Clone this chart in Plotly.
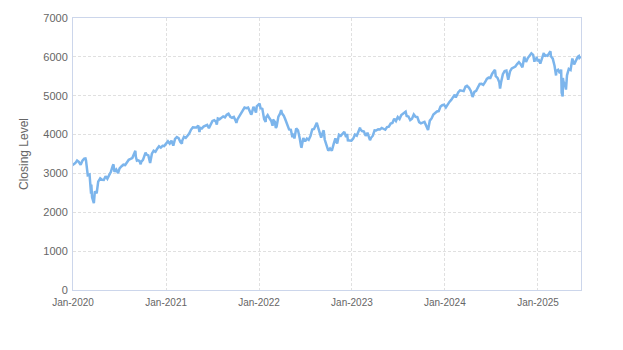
import plotly.graph_objects as go

# Weekly-ish closing levels (date, close)
closes_2020 = [
    ("2020-01-02", 3258), ("2020-01-03", 3235), ("2020-01-10", 3265), ("2020-01-17", 3330),
    ("2020-01-24", 3295), ("2020-01-31", 3225), ("2020-02-07", 3328), ("2020-02-14", 3380),
    ("2020-02-19", 3386), ("2020-02-21", 3338), ("2020-02-28", 2954), ("2020-03-06", 2972),
    ("2020-03-12", 2481), ("2020-03-13", 2711), ("2020-03-16", 2386), ("2020-03-20", 2305),
    ("2020-03-23", 2237), ("2020-03-27", 2541), ("2020-04-03", 2489), ("2020-04-09", 2790),
    ("2020-04-17", 2875), ("2020-04-24", 2837), ("2020-05-01", 2831), ("2020-05-08", 2930),
    ("2020-05-15", 2864), ("2020-05-22", 2955), ("2020-05-29", 3044), ("2020-06-05", 3194),
    ("2020-06-08", 3232), ("2020-06-12", 3041), ("2020-06-19", 3098), ("2020-06-26", 3009),
    ("2020-07-02", 3130), ("2020-07-10", 3185), ("2020-07-17", 3225), ("2020-07-24", 3216),
    ("2020-07-31", 3271), ("2020-08-07", 3351), ("2020-08-14", 3373), ("2020-08-21", 3397),
    ("2020-08-28", 3508), ("2020-09-02", 3580), ("2020-09-04", 3427), ("2020-09-08", 3332),
    ("2020-09-11", 3341), ("2020-09-18", 3319), ("2020-09-23", 3237), ("2020-09-25", 3298),
    ("2020-10-02", 3348), ("2020-10-09", 3477), ("2020-10-12", 3534), ("2020-10-16", 3484),
    ("2020-10-23", 3465), ("2020-10-30", 3270), ("2020-11-06", 3509), ("2020-11-13", 3585),
    ("2020-11-20", 3558), ("2020-11-27", 3638), ("2020-12-04", 3699), ("2020-12-11", 3663),
    ("2020-12-18", 3709), ("2020-12-24", 3703), ("2020-12-31", 3756),
]
closes_2021 = [
    ("2021-01-08", 3825), ("2021-01-15", 3768), ("2021-01-22", 3841), ("2021-01-29", 3714),
    ("2021-02-05", 3887), ("2021-02-12", 3934), ("2021-02-19", 3907), ("2021-02-26", 3811),
    ("2021-03-04", 3768), ("2021-03-05", 3842), ("2021-03-12", 3943), ("2021-03-19", 3913),
    ("2021-03-26", 3975), ("2021-04-01", 4020), ("2021-04-09", 4129), ("2021-04-16", 4185),
    ("2021-04-23", 4180), ("2021-04-30", 4181), ("2021-05-07", 4233), ("2021-05-12", 4063),
    ("2021-05-14", 4174), ("2021-05-21", 4156), ("2021-05-28", 4204), ("2021-06-04", 4230),
    ("2021-06-11", 4247), ("2021-06-18", 4166), ("2021-06-25", 4281), ("2021-07-02", 4352),
    ("2021-07-09", 4370), ("2021-07-16", 4327), ("2021-07-19", 4258), ("2021-07-23", 4412),
    ("2021-07-30", 4395), ("2021-08-06", 4437), ("2021-08-13", 4468), ("2021-08-20", 4442),
    ("2021-08-27", 4509), ("2021-09-03", 4535), ("2021-09-10", 4459), ("2021-09-17", 4433),
    ("2021-09-24", 4455), ("2021-10-01", 4357), ("2021-10-04", 4300), ("2021-10-08", 4391),
    ("2021-10-15", 4471), ("2021-10-22", 4545), ("2021-10-29", 4605), ("2021-11-05", 4697),
    ("2021-11-12", 4682), ("2021-11-19", 4698), ("2021-11-26", 4595), ("2021-12-01", 4513),
    ("2021-12-03", 4538), ("2021-12-10", 4712), ("2021-12-17", 4620), ("2021-12-20", 4568),
    ("2021-12-23", 4725), ("2021-12-31", 4766),
]
closes_2022 = [
    ("2022-01-03", 4796), ("2022-01-07", 4677), ("2022-01-14", 4662), ("2022-01-21", 4398),
    ("2022-01-27", 4327), ("2022-01-28", 4432), ("2022-02-04", 4500), ("2022-02-11", 4419),
    ("2022-02-18", 4349), ("2022-02-23", 4226), ("2022-02-25", 4385), ("2022-03-04", 4329),
    ("2022-03-08", 4170), ("2022-03-11", 4204), ("2022-03-18", 4463), ("2022-03-25", 4543),
    ("2022-03-29", 4631), ("2022-04-01", 4546), ("2022-04-08", 4488), ("2022-04-14", 4393),
    ("2022-04-22", 4272), ("2022-04-29", 4132), ("2022-05-06", 4123), ("2022-05-12", 3930),
    ("2022-05-13", 4024), ("2022-05-20", 3901), ("2022-05-27", 4158), ("2022-06-03", 4109),
    ("2022-06-10", 3901), ("2022-06-16", 3667), ("2022-06-17", 3675), ("2022-06-24", 3912),
    ("2022-07-01", 3825), ("2022-07-08", 3899), ("2022-07-15", 3863), ("2022-07-22", 3962),
    ("2022-07-29", 4130), ("2022-08-05", 4145), ("2022-08-12", 4280), ("2022-08-16", 4305),
    ("2022-08-19", 4228), ("2022-08-26", 4058), ("2022-09-02", 3924), ("2022-09-09", 4067),
    ("2022-09-12", 4110), ("2022-09-16", 3873), ("2022-09-23", 3693), ("2022-09-30", 3586),
    ("2022-10-07", 3640), ("2022-10-12", 3577), ("2022-10-14", 3583), ("2022-10-21", 3752),
    ("2022-10-28", 3901), ("2022-11-04", 3771), ("2022-11-11", 3993), ("2022-11-18", 3965),
    ("2022-11-25", 4026), ("2022-12-02", 4072), ("2022-12-09", 3934), ("2022-12-13", 4020),
    ("2022-12-16", 3852), ("2022-12-23", 3845), ("2022-12-30", 3840),
]
closes_2023 = [
    ("2023-01-06", 3895), ("2023-01-13", 3999), ("2023-01-20", 3973), ("2023-01-27", 4071),
    ("2023-02-02", 4180), ("2023-02-03", 4136), ("2023-02-10", 4090), ("2023-02-17", 4079),
    ("2023-02-24", 3970), ("2023-03-03", 4046), ("2023-03-10", 3862), ("2023-03-13", 3856),
    ("2023-03-17", 3917), ("2023-03-24", 3971), ("2023-03-31", 4109), ("2023-04-06", 4105),
    ("2023-04-14", 4138), ("2023-04-21", 4133), ("2023-04-28", 4169), ("2023-05-05", 4136),
    ("2023-05-12", 4124), ("2023-05-19", 4192), ("2023-05-26", 4205), ("2023-06-02", 4282),
    ("2023-06-09", 4299), ("2023-06-16", 4410), ("2023-06-23", 4348), ("2023-06-30", 4450),
    ("2023-07-07", 4399), ("2023-07-14", 4505), ("2023-07-21", 4536), ("2023-07-28", 4582),
    ("2023-07-31", 4589), ("2023-08-04", 4478), ("2023-08-11", 4464), ("2023-08-18", 4370),
    ("2023-08-25", 4406), ("2023-09-01", 4516), ("2023-09-08", 4457), ("2023-09-15", 4450),
    ("2023-09-22", 4320), ("2023-09-29", 4288), ("2023-10-06", 4308), ("2023-10-13", 4327),
    ("2023-10-20", 4224), ("2023-10-27", 4117), ("2023-11-03", 4358), ("2023-11-10", 4415),
    ("2023-11-17", 4514), ("2023-11-24", 4559), ("2023-12-01", 4595), ("2023-12-08", 4604),
    ("2023-12-15", 4719), ("2023-12-22", 4755), ("2023-12-29", 4770),
]
closes_2024 = [
    ("2024-01-05", 4697), ("2024-01-12", 4784), ("2024-01-19", 4840), ("2024-01-26", 4891),
    ("2024-02-02", 4959), ("2024-02-09", 5027), ("2024-02-13", 4953), ("2024-02-16", 5006),
    ("2024-02-23", 5089), ("2024-03-01", 5137), ("2024-03-08", 5124), ("2024-03-15", 5117),
    ("2024-03-22", 5234), ("2024-03-28", 5254), ("2024-04-05", 5204), ("2024-04-12", 5123),
    ("2024-04-19", 4967), ("2024-04-26", 5100), ("2024-05-03", 5128), ("2024-05-10", 5223),
    ("2024-05-17", 5303), ("2024-05-24", 5305), ("2024-05-31", 5278), ("2024-06-07", 5347),
    ("2024-06-14", 5432), ("2024-06-21", 5465), ("2024-06-28", 5460), ("2024-07-05", 5567),
    ("2024-07-12", 5615), ("2024-07-16", 5667), ("2024-07-19", 5505), ("2024-07-26", 5459),
    ("2024-08-02", 5346), ("2024-08-05", 5186), ("2024-08-09", 5344), ("2024-08-16", 5554),
    ("2024-08-23", 5634), ("2024-08-30", 5648), ("2024-09-06", 5408), ("2024-09-13", 5626),
    ("2024-09-20", 5703), ("2024-09-27", 5738), ("2024-10-04", 5751), ("2024-10-11", 5815),
    ("2024-10-18", 5864), ("2024-10-25", 5808), ("2024-11-01", 5729), ("2024-11-08", 5996),
    ("2024-11-15", 5870), ("2024-11-22", 5969), ("2024-11-29", 6032), ("2024-12-06", 6090),
    ("2024-12-13", 6051), ("2024-12-18", 5872), ("2024-12-20", 5931), ("2024-12-27", 5971),
    ("2024-12-31", 5882),
]
closes_2025 = [
    ("2025-01-03", 5942), ("2025-01-10", 5827), ("2025-01-17", 5997), ("2025-01-24", 6101),
    ("2025-01-27", 6012), ("2025-01-31", 6041), ("2025-02-07", 6026), ("2025-02-14", 6115),
    ("2025-02-19", 6144), ("2025-02-21", 6013), ("2025-02-28", 5955), ("2025-03-07", 5770),
    ("2025-03-10", 5615), ("2025-03-13", 5522), ("2025-03-14", 5639), ("2025-03-21", 5667),
    ("2025-03-28", 5581), ("2025-04-02", 5671), ("2025-04-04", 5074), ("2025-04-08", 4982),
    ("2025-04-09", 5457), ("2025-04-11", 5363), ("2025-04-17", 5283), ("2025-04-21", 5158),
    ("2025-04-25", 5525), ("2025-05-02", 5687), ("2025-05-09", 5660), ("2025-05-16", 5958),
    ("2025-05-23", 5803), ("2025-05-30", 5912), ("2025-06-06", 6000), ("2025-06-11", 6022),
    ("2025-06-13", 5977), ("2025-06-18", 6010),
]

all_points = closes_2020 + closes_2021 + closes_2022 + closes_2023 + closes_2024 + closes_2025
dates = [d for d, _ in all_points]
values = [v for _, v in all_points]

y_ticks = [0, 1000, 2000, 3000, 4000, 5000, 6000, 7000]
x_ticks = ["2020-01-01", "2021-01-01", "2022-01-01", "2023-01-01", "2024-01-01", "2025-01-01"]
x_tick_labels = ["Jan-2020", "Jan-2021", "Jan-2022", "Jan-2023", "Jan-2024", "Jan-2025"]

fig = go.Figure()
fig.add_trace(go.Scatter(
    x=dates, y=values, mode="lines",
    line=dict(color="#7cb5ec", width=2.5),
    showlegend=False,
))

fig.update_layout(
    width=623, height=350,
    margin=dict(l=73, r=42, t=16, b=60),
    paper_bgcolor="white", plot_bgcolor="white",
    font=dict(family="Liberation Sans, Arial, sans-serif", color="#666666"),
)
fig.update_xaxes(
    type="date",
    range=["2020-01-01", "2025-06-19"],
    tickvals=x_ticks, ticktext=x_tick_labels,
    tickfont=dict(size=10, color="#666666"),
    ticklabelstandoff=3,
    showgrid=True, gridcolor="#e0e0e0", griddash="3px,2px", gridwidth=1,
    showline=True, linecolor="#ccd6eb", linewidth=1, mirror=True,
    ticks="", zeroline=False,
)
fig.update_yaxes(
    range=[0, 7000],
    tickvals=y_ticks,
    tickfont=dict(size=11, color="#666666"),
    ticklabelstandoff=2,
    title=dict(text="Closing Level", font=dict(size=12, color="#666666"), standoff=12),
    showgrid=True, gridcolor="#e0e0e0", griddash="3px,2px", gridwidth=1,
    showline=True, linecolor="#ccd6eb", linewidth=1, mirror=True,
    ticks="", zeroline=False,
)

fig.write_html("out.html")
